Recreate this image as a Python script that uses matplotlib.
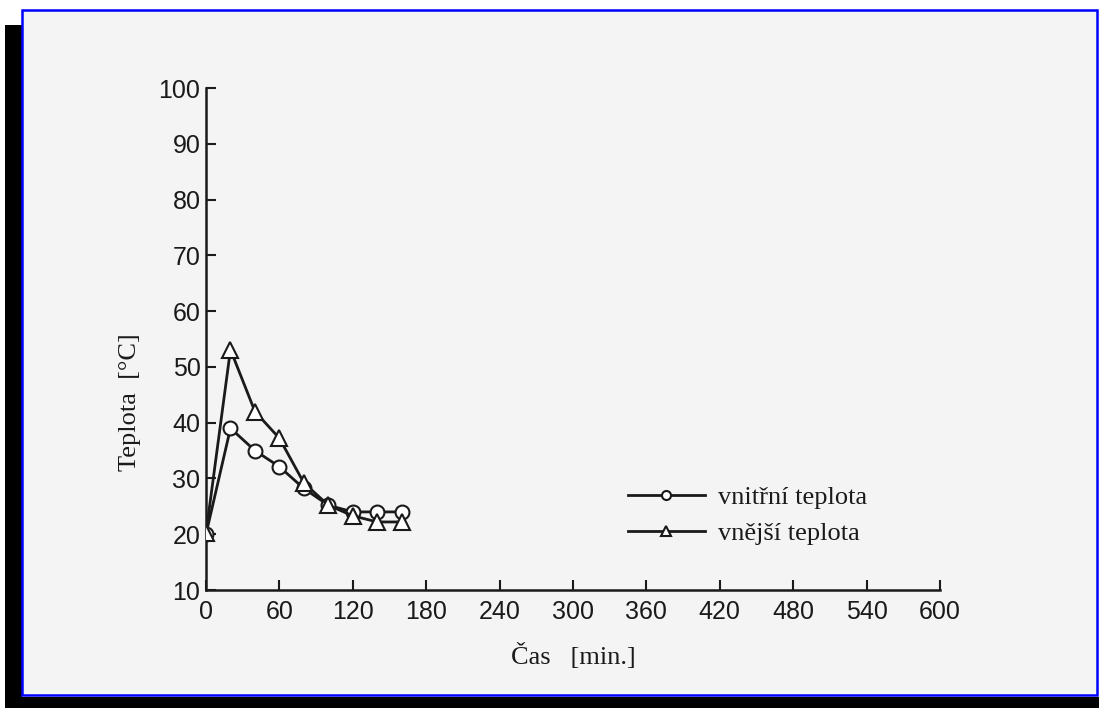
import matplotlib.pyplot as plt
from matplotlib.patches import Rectangle

# data
cas = [0, 20, 40, 60, 80, 100, 120, 140, 160]
vnitrni = [20.0, 39.0, 35.0, 32.1, 28.2, 25.2, 24.0, 24.0, 24.0]
vnejsi = [20.2, 53.1, 42.0, 37.2, 29.2, 25.2, 23.3, 22.2, 22.2]

x_ticks = [0, 60, 120, 180, 240, 300, 360, 420, 480, 540, 600]
y_ticks = [10, 20, 30, 40, 50, 60, 70, 80, 90, 100]

W, H = 1099, 708
ink = '#1a1a1a'
paper = '#f4f4f4'


def px_rect(fig, x0, y0, x1, y1, color):
    """Rectangle given in image pixels (origin top left)."""
    fig.patches.append(Rectangle((x0 / W, 1 - y1 / H), (x1 - x0) / W, (y1 - y0) / H,
                                 transform=fig.transFigure, facecolor=color,
                                 edgecolor='none', zorder=-10))


fig = plt.figure(figsize=(W / 100, H / 100), dpi=100, facecolor='white')

# scan frame: paper, blue border, black edges
px_rect(fig, 22, 10, 1097, 695, paper)
fig.patches.append(Rectangle((22 / W, 1 - 695 / H), 1075 / W, 685 / H,
                             transform=fig.transFigure, facecolor='none',
                             edgecolor='#0000ff', linewidth=1.8, zorder=-5))
px_rect(fig, 5, 25, 22, 708, 'black')
px_rect(fig, 5, 697, 1099, 708, 'black')

ax = fig.add_axes([206 / W, 1 - 590 / H, 734 / W, 502 / H])
ax.patch.set_visible(False)

ax.plot(cas, vnitrni, color=ink, lw=2, marker='o', ms=10, mfc='white',
        mec=ink, mew=1.5, label='vnitřní teplota', zorder=3)
ax.plot(cas, vnejsi, color=ink, lw=2, marker='^', ms=11, mfc='white',
        mec=ink, mew=1.5, label='vnější teplota', zorder=4)

ax.set_xlim(0, 600)
ax.set_ylim(10, 100)
ax.set_xticks(x_ticks)
ax.set_yticks(y_ticks)
for s in ['top', 'right']:
    ax.spines[s].set_visible(False)
for s in ['left', 'bottom']:
    ax.spines[s].set_linewidth(1.8)
    ax.spines[s].set_color(ink)
ax.tick_params(direction='in', length=7, width=1.5, color=ink,
               labelsize=18, labelcolor=ink)
ax.tick_params(axis='x', pad=7)
ax.tick_params(axis='y', pad=4)
for lab in ax.get_xticklabels() + ax.get_yticklabels():
    lab.set_family(['Liberation Sans', 'DejaVu Sans'])

ax.set_ylabel('Teplota  [°C]', family=['Liberation Serif', 'DejaVu Serif'],
              fontsize=19, color=ink, labelpad=12)
ax.yaxis.set_label_coords(-0.089, 0.375)
ax.set_xlabel('Čas   [min.]', family=['Liberation Serif', 'DejaVu Serif'],
              fontsize=19, color=ink, labelpad=14)

leg = ax.legend(loc='upper left', bbox_to_anchor=(628 / W, 1 - 486 / H),
                bbox_transform=fig.transFigure, frameon=False,
                prop={'family': ['Liberation Serif', 'DejaVu Serif'], 'size': 19},
                handlelength=2.9, handletextpad=0.5, labelspacing=0.45,
                markerscale=0.65, borderpad=0, borderaxespad=0)
for t in leg.get_texts():
    t.set_color(ink)

fig.savefig('out.png', dpi=100, facecolor=fig.get_facecolor())
